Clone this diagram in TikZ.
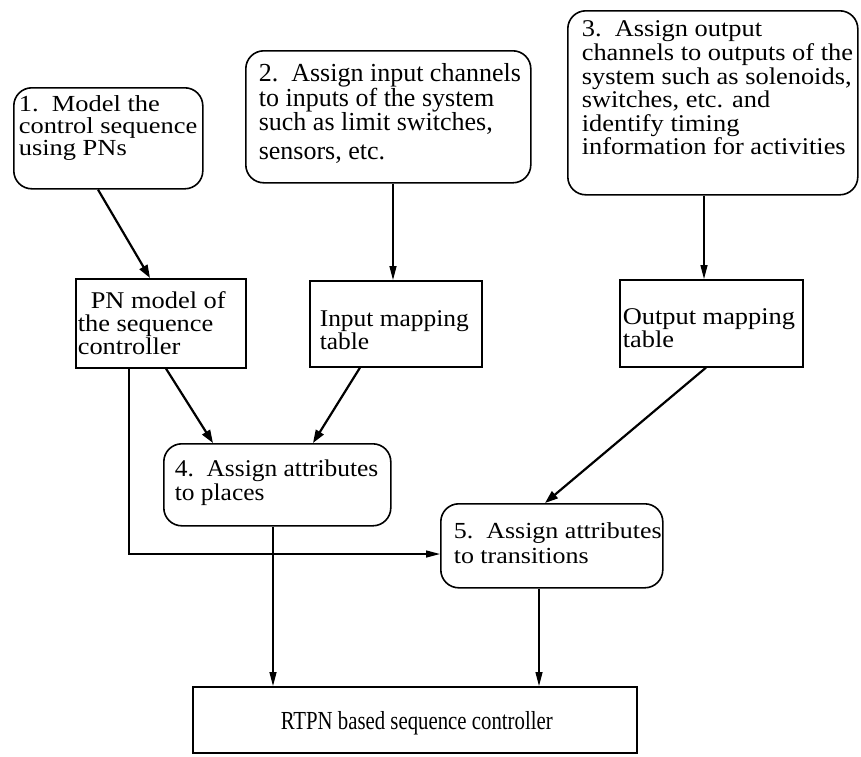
\documentclass[tikz,border=0pt]{standalone}
\usepackage{fontspec}
\setmainfont{Liberation Serif}
\newfontfamily\fa[FakeStretch=1.15]{Liberation Serif}
\newfontfamily\fb[FakeStretch=1.0]{Liberation Serif}
\newfontfamily\fc[FakeStretch=1.1]{Liberation Serif}
\newfontfamily\fg[FakeStretch=1.13]{Liberation Serif}
\newfontfamily\fd[FakeStretch=1.06]{Liberation Serif}
\newfontfamily\fe[FakeStretch=0.8]{Liberation Serif}
\usetikzlibrary{arrows.meta}
\newcommand{\bt}[6]{\parbox[t][#2][t]{#1}{\raggedright\leftskip=#3\relax#4\rule{0pt}{#5}#6}}
\tikzset{
  rbox/.style={draw, line width=1.6pt, rounded corners=18pt, inner sep=0pt, anchor=north west},
  sbox/.style={draw, line width=1.6pt, inner sep=0pt, anchor=north west},
  thk/.style={line width=2.2pt, -{Triangle[length=13pt,width=9pt]}},
  thn/.style={line width=1.4pt, -{Triangle[length=14pt,width=7pt]}}
}
\begin{document}
\begin{tikzpicture}[x=1pt,y=-1pt]
\useasboundingbox (0,0) rectangle (861,756);
% top row
\node[rbox] (b1) at (13,87) {\bt{189pt}{101pt}{5pt}{\fa\fontsize{23pt}{21.7pt}\selectfont}{24pt}{1.\ \ Model the\\control sequence\\using PNs}};
\node[rbox] (b2) at (245,50) {\bt{285pt}{132pt}{13pt}{\fb\fontsize{26pt}{24.5pt}\selectfont}{31pt}{2.\ \ Assign input channels\\to inputs of the system\\such as limit switches,\\[4pt]sensors, etc.}};
\node[rbox] (b3) at (567,10) {\bt{290pt}{184pt}{14pt}{\fc\fontsize{24pt}{23.6pt}\selectfont}{26pt}{\mbox{3.\ \ Assign output}\\\mbox{channels to outputs of the}\\\mbox{system such as solenoids,}\\\mbox{switches, etc. and}\\\mbox{identify timing}\\\mbox{information for activities}}};
% middle row
\node[sbox] (pn) at (75,278) {\bt{170pt}{89pt}{2pt}{\fc\fontsize{24pt}{23pt}\selectfont}{30pt}{\hspace*{13pt}PN model of\\the sequence\\controller}};
\node[sbox] (in) at (309,280) {\bt{172pt}{86pt}{10pt}{\fd\fontsize{24pt}{23pt}\selectfont}{46pt}{Input mapping\\table}};
\node[sbox] (out) at (619,279) {\bt{183pt}{87pt}{3pt}{\fc\fontsize{24pt}{23pt}\selectfont}{45pt}{Output mapping\\table}};
% lower row
\node[rbox] (b4) at (163,443) {\bt{227pt}{82pt}{11pt}{\fd\fontsize{24pt}{24pt}\selectfont}{33pt}{4.\ \ Assign attributes\\to places}};
\node[rbox] (b5) at (440,503) {\bt{222pt}{84pt}{13pt}{\fg\fontsize{23pt}{25pt}\selectfont}{35pt}{\mbox{5.\ \ Assign attributes}\\to transitions}};
\node[sbox] (bot) at (192,686) {\bt{444pt}{66pt}{88pt}{\fe\fontsize{26pt}{25pt}\selectfont}{43pt}{RTPN based sequence controller}};
% connectors
\draw[thk] ([shift={(85,0)}]b1.south west) -- ([shift={(75,0)}]pn.north west);
\draw[thn] ([shift={(148,0)}]b2.south west) -- ([shift={(84,0)}]in.north west);
\draw[thn] ([shift={(137,0)}]b3.south west) -- ([shift={(85,0)}]out.north west);
\draw[thk] ([shift={(91,0)}]pn.south west) -- ([shift={(50,0)}]b4.north west);
\draw[thk] ([shift={(51,0)}]in.south west) -- ([shift={(150,0)}]b4.north west);
\draw[thk] ([shift={(87,0)}]out.south west) -- ([shift={(105,0)}]b5.north west);
\draw[thn] ([shift={(54,0)}]pn.south west) |- ([shift={(0,51)}]b5.north west);
\draw[thn] ([shift={(110,0)}]b4.south west) -- ([shift={(81,0)}]bot.north west);
\draw[thn] ([shift={(99,0)}]b5.south west) -- ([shift={(347,0)}]bot.north west);
\end{tikzpicture}
\end{document}
